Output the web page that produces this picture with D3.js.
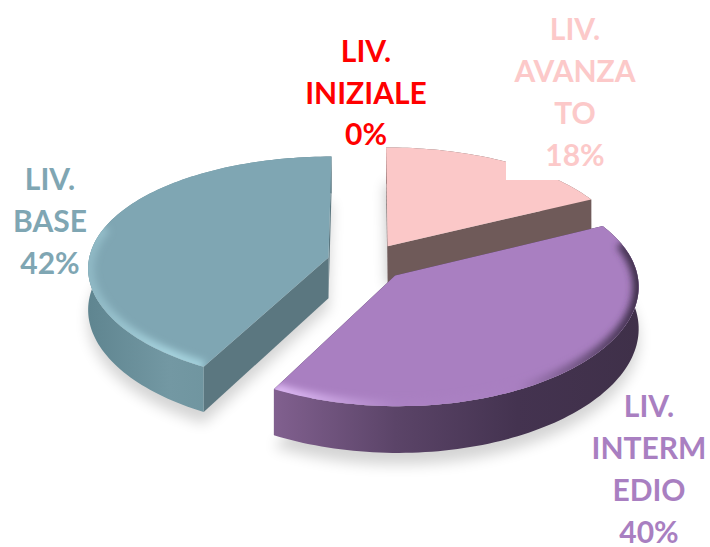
<!DOCTYPE html>
<html><head><meta charset="utf-8">
<script src="https://cdn.jsdelivr.net/npm/d3@7"></script>
<style>html,body{margin:0;background:#fff}svg{display:block}text{font-family:Lato,"Open Sans",sans-serif;font-weight:700;font-size:30px}</style>
</head><body><svg id="c" width="710" height="547"></svg>
<script>
const categories = ["LIV. INIZIALE","LIV. AVANZATO","LIV. INTERMEDIO","LIV. BASE"];
const values = [0,17.6,40.2,42.2];
const labelLines = [["LIV.","INIZIALE"],["LIV.","AVANZA","TO"],["LIV.","INTERM","EDIO"],["LIV.","BASE"]];
const labelColors = ["#ff0000","#fcc9c9","#a97fc1","#7fa6b3"];
const topColors = ["#ff0000","#fbc8c8","#a97fc1","#7fa6b3"];
const faceColors = ["#800000","#6f5a59","#443350","#5b7780"];
const wallStops = [null,["#6f5a59","#6f5a59"],["#81608f","#5b4468","#443350","#3f3049"],["#5f8590","#7398a3","#6c929c","#5b7780"]];
const bevelStops = [null,null,["#e0bcf6","#ab82c4","#a97fc1","#3c2d48"],["#8fb8c4","#a6d3de","#9ccad6","#8fc0cc"]];
const labelX = [366,575,649,50];
const labelY = [62,40,417,190];
const lineGap = [41.5,42,42,42];

const W=710,H=547, cx=367, cy=262, Rx=240, Ry=113, persp=0.11, perspX=0.085, depth=41, explode=0.166, bevelLimit=0.3;
const svg=d3.select("#c");
const defs=svg.append("defs");
const blur=(id,s)=>defs.append("filter").attr("id",id).attr("x","-20%").attr("y","-20%").attr("width","140%").attr("height","140%").append("feGaussianBlur").attr("stdDeviation",s);
blur("soft",7); blur("bev",3.5);

const pie=d3.pie().sort(null).value(d=>d).startAngle(0).endAngle(2*Math.PI);
const arcs=pie(values);
const line=d3.line();
function proj(u,v,z){const w=1+persp*v, wx=1+perspX*v;return [cx+Rx*u/wx, cy-Ry*v/w+depth*z/w];}
function pt(a,r,t,z){const m=(a.startAngle+a.endAngle)/2;
  return proj(explode*Math.sin(m)+r*Math.sin(t),explode*Math.cos(m)+r*Math.cos(t),z);}
function rimAngles(a){const n=Math.ceil((a.endAngle-a.startAngle)*40);
  return d3.range(n+1).map(i=>a.startAngle+(a.endAngle-a.startAngle)*i/n);}
function rim(a,z){return rimAngles(a).map(t=>pt(a,1,t,z));}
function grad(id,stops,x0,x1){const g=defs.append("linearGradient").attr("id",id).attr("gradientUnits","userSpaceOnUse").attr("x1",x0).attr("x2",x1).attr("y1",0).attr("y2",0);
  stops.forEach((c,i)=>g.append("stop").attr("offset",i/(stops.length-1)).attr("stop-color",c));}

const order=[1,3,2];
// ground shadow
order.forEach(i=>{const a=arcs[i];
  const pts=[pt(a,0,0,i===1?1:1.25),...rim(a,i===1?1:1.25)];
  svg.append("path").attr("d",line(pts)+"Z").attr("fill","#000").attr("opacity",i===1?0.25:0.17).attr("filter","url(#soft)");
});
order.forEach(i=>{
  const a=arcs[i], top=rim(a,0), bot=rim(a,1), xs=top.map(p=>p[0]), x0=d3.min(xs), x1=d3.max(xs);
  const g=svg.append("g");
  // cut faces
  [a.startAngle,a.endAngle].forEach(t=>{
    g.append("path").attr("d",line([pt(a,0,t,0),pt(a,1,t,0),pt(a,1,t,1),pt(a,0,t,1)])+"Z").attr("fill",faceColors[i]);
  });
  // outer wall
  grad("w"+i,wallStops[i],x0,x1);
  g.append("path").attr("d",line([...top,...bot.slice().reverse()])+"Z").attr("fill",`url(#w${i})`);
  // top face
  const d=line([pt(a,0,0,0),...top])+"Z";
  g.append("path").attr("d",d).attr("fill",topColors[i]);
  if(bevelStops[i]){
    defs.append("clipPath").attr("id","t"+i).append("path").attr("d",d);
    grad("b"+i,bevelStops[i],x0,x1);
    const front=rimAngles(a).filter(t=>Math.cos(t)<bevelLimit).map(t=>pt(a,1,t,0));
    g.append("g").attr("clip-path",`url(#t${i})`).append("path").attr("d",line(front))
      .attr("fill","none").attr("stroke",`url(#b${i})`).attr("stroke-width",12).attr("filter","url(#bev)");
  }
});
// white label background over the pink slice
svg.append("rect").attr("x",labelX[1]-69).attr("y",labelY[1]-32).attr("width",138).attr("height",172).attr("fill","#fff");
// labels
const pct=d3.format(".0f");
const total=d3.sum(values);
labelLines.forEach((ls,i)=>{
  const rows=[...ls,pct(values[i]/total*100)+"%"];
  const t=svg.append("text").attr("text-anchor","middle").attr("fill",labelColors[i]);
  rows.forEach((s,j)=>t.append("tspan").attr("x",labelX[i]).attr("y",labelY[i]+j*lineGap[i]).text(s));
});
</script></body></html>
